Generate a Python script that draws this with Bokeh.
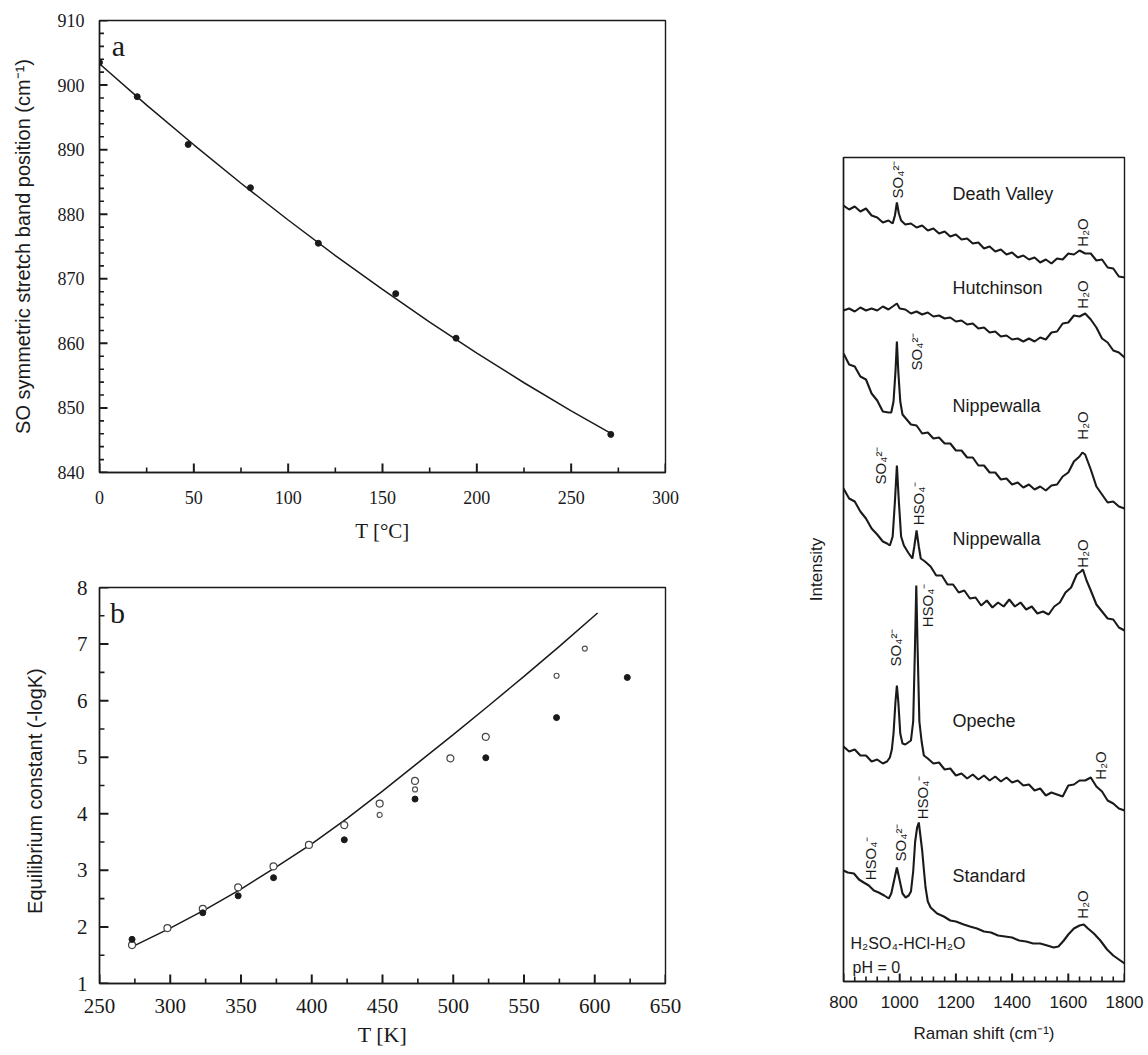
import math
from bokeh.plotting import figure
from bokeh.layouts import row, column
from bokeh.models import FixedTicker, Label
from bokeh.core.properties import value
from bokeh.embed import file_html
from bokeh.resources import INLINE

# ---------------- Panel a: SO symmetric stretch band position vs T ----------------
a_temp = [0, 20, 47, 80, 116, 157, 189, 271]
a_band = [903.5, 898.2, 890.8, 884.1, 875.5, 867.7, 860.8, 845.9]
a_fit_temp = [0, 25, 50, 75, 100, 125, 150, 175, 200, 225, 250, 272]
a_fit_band = [903.3, 896.9, 890.75, 884.8, 879.1, 873.6, 868.35, 863.3, 858.5, 853.9, 849.55, 845.9]
a_xticks = [0, 50, 100, 150, 200, 250, 300]
a_xminor = [25, 75, 125, 175, 225, 275]
a_yticks = [840, 850, 860, 870, 880, 890, 900, 910]
a_yminor = [v for v in range(842, 910, 2) if v % 10 != 0]

# ---------------- Panel b: equilibrium constant vs T ----------------
b_open_T = [273, 298, 323, 348, 373, 398, 423, 448, 473, 498, 523]
b_open_K = [1.68, 1.98, 2.32, 2.70, 3.07, 3.45, 3.80, 4.18, 4.58, 4.98, 5.36]
b_small_T = [448, 473, 573, 593]
b_small_K = [3.98, 4.43, 6.44, 6.92]
b_fill_T = [273, 323, 348, 373, 423, 473, 523, 573, 623]
b_fill_K = [1.78, 2.25, 2.55, 2.87, 3.54, 4.26, 4.99, 5.70, 6.41]
b_fit_T = [274, 300, 325, 350, 375, 400, 425, 450, 475, 500, 525, 550, 575, 602]
b_fit_K = [1.66, 1.98, 2.31, 2.67, 3.06, 3.47, 3.92, 4.40, 4.90, 5.40, 5.91, 6.43, 6.96, 7.55]
b_xticks = [250, 300, 350, 400, 450, 500, 550, 600, 650]
b_xminor = [275, 325, 375, 425, 475, 525, 575, 625]
b_yticks = [1, 2, 3, 4, 5, 6, 7, 8]
b_yminor = [1.5, 2.5, 3.5, 4.5, 5.5, 6.5, 7.5]

# ---------------- Raman spectra (offset intensities, a.u.) ----------------
dv_x = [800, 820, 840, 860, 880, 900, 920, 940, 960, 975, 983, 990, 997, 1005, 1020,
        1040, 1060, 1080, 1100, 1120, 1140, 1160, 1180, 1200, 1220, 1240, 1260, 1280, 1300,
        1320, 1340, 1360, 1380, 1400, 1420, 1440, 1460, 1480, 1500, 1520, 1540, 1560, 1580,
        1600, 1620, 1640, 1660, 1680, 1700, 1720, 1740, 1760, 1780, 1800]
dv_y = [776, 772, 775, 770, 773, 766, 764, 759, 761, 758, 766, 779, 768, 761, 757,
        758, 754, 756, 751, 753, 748, 750, 745, 747, 742, 743, 738, 739, 733,
        735, 730, 732, 727, 729, 724, 726, 722, 724, 719, 722, 718, 723, 722,
        728, 727, 731, 728, 728, 721, 722, 714, 713, 705, 704]

hu_x = [800, 820, 840, 860, 880, 900, 920, 940, 960, 980, 990, 1000,
        1020, 1040, 1060, 1080, 1100, 1120, 1140, 1160, 1180, 1200, 1220, 1240, 1260, 1280,
        1300, 1320, 1340, 1360, 1380, 1400, 1420, 1440, 1460, 1480, 1500, 1520, 1540, 1560,
        1580, 1600, 1620, 1640, 1660, 1680, 1700, 1720, 1740, 1760, 1780, 1800]
hu_y = [671, 673, 670, 674, 671, 673, 671, 675, 672, 676, 678, 673,
        672, 668, 670, 667, 669, 665, 666, 663, 664, 660, 661, 657, 658, 653,
        654, 649, 650, 645, 646, 642, 643, 640, 643, 640, 644, 642, 649, 650,
        658, 659, 666, 665, 668, 662, 654, 643, 639, 631, 629, 624]

n1_x = [800, 820, 840, 860, 880, 900, 920, 940, 960,
        970, 978, 985, 990, 995, 1002, 1010, 1025,
        1040, 1060, 1080, 1100, 1120, 1140, 1160, 1180, 1200, 1220, 1240, 1260, 1280, 1300,
        1320, 1340, 1360, 1380, 1400, 1420, 1440, 1460, 1480, 1500, 1520, 1540, 1560, 1580,
        1600, 1620, 1640, 1650, 1660, 1680, 1700, 1720, 1740, 1760, 1780, 1800]
n1_y = [628, 617, 615, 605, 602, 588, 581, 570, 569,
        569, 580, 610, 640, 610, 580, 567, 562,
        557, 556, 548, 549, 543, 544, 538, 538, 531, 531, 524, 524, 516, 516,
        509, 509, 502, 503, 497, 499, 494, 497, 492, 495, 491, 496, 497, 505,
        509, 520, 525, 529, 527, 512, 495, 487, 479, 480, 475, 473]

n2_x = [800, 820, 840, 860, 880, 900, 920, 940,
        955, 965, 975, 983, 990, 997, 1005, 1015, 1030, 1045, 1052, 1060, 1068, 1075, 1090,
        1110, 1130, 1150, 1170, 1190, 1210, 1230, 1250, 1270, 1290, 1310, 1330, 1350, 1370,
        1390, 1410, 1430, 1450, 1470, 1490, 1510, 1530, 1550, 1570, 1590, 1610, 1630,
        1645, 1652, 1665, 1680, 1700, 1720, 1740, 1760, 1780, 1800]
n2_y = [493, 483, 480, 470, 463, 453, 447, 440,
        438, 436, 445, 480, 516, 480, 445, 436, 429, 423, 435, 451, 435, 423, 420,
        415, 406, 406, 397, 397, 389, 391, 383, 384, 376, 381, 374, 379, 375,
        382, 375, 379, 372, 375, 368, 370, 367, 375, 379, 389, 394, 407,
        410, 412, 401, 391, 377, 370, 363, 362, 354, 351]

op_x = [800, 820, 840, 860, 880, 900, 920, 940,
        955, 965, 972, 978, 985, 990, 995, 1002, 1010, 1020, 1030, 1040, 1048, 1054, 1059,
        1064, 1070, 1078, 1086, 1100,
        1120, 1140, 1160, 1180, 1200, 1220, 1240, 1260, 1280, 1300, 1320, 1340, 1360, 1380,
        1400, 1420, 1440, 1460, 1480, 1500, 1520, 1540, 1560, 1580, 1600, 1620, 1640, 1660,
        1680, 1700, 1720, 1740, 1760, 1780, 1800]
op_y = [235, 230, 232, 226, 226, 220, 222, 218,
        220, 224, 232, 248, 280, 296, 280, 248, 238, 237, 239, 241, 260, 330, 396,
        330, 260, 240, 226, 223,
        218, 219, 212, 213, 206, 208, 203, 207, 202, 206, 201, 205, 200, 204,
        199, 201, 196, 197, 191, 193, 186, 189, 187, 185, 196, 197, 201, 201,
        204, 195, 190, 181, 178, 173, 171]

st_x = [800, 815, 837, 855, 872, 890, 908, 925, 945, 961, 970, 980, 990, 1000, 1010, 1021, 1032, 1040,
        1048, 1055, 1062, 1068, 1074, 1080, 1086, 1092, 1100, 1110, 1133, 1157, 1180, 1200, 1228,
        1250, 1275, 1300, 1325, 1350, 1375, 1400, 1425, 1450, 1475, 1500, 1525, 1548, 1565, 1584,
        1600, 1620, 1640, 1655, 1670, 1691, 1714, 1738, 1760, 1780, 1800]
st_y = [111, 109, 108, 102, 99, 96, 91, 89, 86, 83, 88, 101, 114, 101, 88, 84, 86, 90,
        110, 140, 154, 159, 145, 131, 112, 94, 80, 74, 68, 65, 61, 60, 57,
        55, 53, 50, 49, 46, 45, 44, 41, 40, 38, 38, 36, 34, 35, 41,
        47, 53, 56, 57, 53, 48, 41, 32, 26, 22, 18]

r_xticks = [800, 1000, 1200, 1400, 1600, 1800]
r_xminor = [v for v in range(840, 1800, 40) if v % 200 != 0]

sample_names = ["Death Valley", "Hutchinson", "Nippewalla", "Nippewalla", "Opeche", "Standard"]
sample_name_y = [788, 694, 576, 443, 261, 106]
band_labels = ["SO₄²⁻", "H₂O", "H₂O", "SO₄²⁻", "H₂O", "SO₄²⁻", "HSO₄⁻", "H₂O",
               "SO₄²⁻", "HSO₄⁻", "H₂O", "HSO₄⁻", "SO₄²⁻", "HSO₄⁻", "H₂O"]
band_label_x = [991, 1650, 1650, 1060, 1650, 932, 1067, 1650, 985, 1099, 1715, 896, 1003, 1081, 1650]
band_label_y = [802, 749, 687, 630, 556, 516, 478, 428, 334, 376, 216, 123, 139, 184, 77]

INK = "#1a1a1a"
SERIF = "Liberation Serif"
SANS = "Liberation Sans"


def make_fig(width, height, xr, yr, left, right, top, bottom):
    p = figure(width=width, height=height, x_range=xr, y_range=yr,
               output_backend="svg", toolbar_location=None,
               min_border_left=left, min_border_right=right,
               min_border_top=top, min_border_bottom=bottom)
    # data units per screen pixel inside the frame (frame size fixed by the borders)
    p.tags = [(xr[1] - xr[0]) / (width - left - right), (yr[1] - yr[0]) / (height - top - bottom)]
    return p


def style_axes(p, tick_font, tick_size, xticks, yticks):
    p.outline_line_color = INK
    p.outline_line_width = 1.4
    p.xgrid.visible = False
    p.ygrid.visible = False
    p.xaxis.ticker = FixedTicker(ticks=xticks)
    p.yaxis.ticker = FixedTicker(ticks=yticks)
    for ax in (p.xaxis[0], p.yaxis[0]):
        ax.axis_line_color = INK
        ax.axis_line_width = 1.4
        ax.major_tick_in = 0
        ax.major_tick_out = 0
        ax.minor_tick_in = 0
        ax.minor_tick_out = 0
        ax.major_label_text_font = tick_font
        ax.major_label_text_font_size = tick_size
        ax.major_label_text_color = INK
        ax.axis_label_text_color = INK
        ax.axis_label_text_font_style = "normal"


def inner_ticks(p, xs, y0, ys, x0, length_px, width):
    # tick marks drawn inward from the bottom and left frame edges
    ux, uy = p.tags
    if xs:
        p.segment(x0=xs, y0=[y0] * len(xs), x1=xs, y1=[y0 + length_px * uy] * len(xs),
                  line_color=INK, line_width=width)
    if ys:
        p.segment(x0=[x0] * len(ys), y0=ys, x1=[x0 + length_px * ux] * len(ys), y1=ys,
                  line_color=INK, line_width=width)


# ---------- figure a ----------
pa = make_fig(760, 550, (0, 300), (840, 910), 99, 25, 20, 78)
style_axes(pa, SERIF, "18px", a_xticks, a_yticks)
pa.xaxis.axis_label = "T [°C]"
pa.xaxis.axis_label_text_font = SERIF
pa.xaxis.axis_label_text_font_size = "21px"
pa.xaxis.major_label_standoff = 18
pa.xaxis.axis_label_standoff = 12
pa.yaxis.axis_label = "SO symmetric stretch band position (cm⁻¹)"
pa.yaxis.axis_label_text_font = SANS
pa.yaxis.axis_label_text_font_size = "20px"
pa.yaxis.major_label_standoff = 15
pa.yaxis.axis_label_standoff = 21
inner_ticks(pa, a_xticks, 840, a_yticks, 0, 9, 2)
inner_ticks(pa, a_xminor, 840, a_yminor, 0, 5, 1.6)
pa.line(a_fit_temp, a_fit_band, line_color=INK, line_width=1.5)
pa.scatter(a_temp, a_band, marker="circle", size=6, fill_color=INK, line_color=INK)
pa.add_layout(Label(x=10, y=906.1, text="a", text_font=SERIF, text_font_size="30px",
                    text_align="center", text_baseline="middle", text_color=INK))

# ---------- figure b ----------
pb = make_fig(760, 505, (250, 650), (1, 8), 97, 95, 37, 72)
style_axes(pb, SERIF, "21px", b_xticks, b_yticks)
pb.xaxis.axis_label = "T [K]"
pb.xaxis.axis_label_text_font = SERIF
pb.xaxis.axis_label_text_font_size = "22px"
pb.xaxis.major_label_standoff = 15
pb.xaxis.axis_label_standoff = 6
pb.yaxis.axis_label = "Equilibrium  constant  (-logK)"
pb.yaxis.axis_label_text_font = SANS
pb.yaxis.axis_label_text_font_size = "20px"
pb.yaxis.major_label_standoff = 12
pb.yaxis.axis_label_standoff = 28
inner_ticks(pb, b_xticks, 1, b_yticks, 250, 9, 2)
inner_ticks(pb, b_xminor, 1, b_yminor, 250, 5, 1.6)
pb.line(b_fit_T, b_fit_K, line_color=INK, line_width=1.5)
pb.scatter(b_open_T, b_open_K, marker="circle", size=7, fill_color="white", line_color="#444", line_width=1.2)
pb.scatter(b_small_T, b_small_K, marker="circle", size=5, fill_color="white", line_color="#555", line_width=1.2)
pb.scatter(b_fill_T, b_fill_K, marker="circle", size=6, fill_color=INK, line_color=INK)
pb.add_layout(Label(x=262.7, y=7.56, text="b", text_font=SERIF, text_font_size="30px",
                    text_align="center", text_baseline="middle", text_color=INK))

# ---------- Raman figure ----------
pr = make_fig(388, 1055, (800, 1800), (0, 824), 83, 24, 157, 74)
style_axes(pr, SANS, "17px", r_xticks, [])
pr.xaxis.axis_label = "Raman shift (cm⁻¹)"
pr.xaxis.axis_label_text_font = SANS
pr.xaxis.axis_label_text_font_size = "17px"
pr.xaxis.major_label_standoff = 14
pr.xaxis.axis_label_standoff = 13
pr.yaxis.axis_label = "Intensity"
pr.yaxis.axis_label_text_font = SANS
pr.yaxis.axis_label_text_font_size = "17px"
pr.yaxis.axis_label_standoff = 18
inner_ticks(pr, r_xticks, 0, [], 800, 8, 2)
inner_ticks(pr, r_xminor, 0, [], 800, 5, 1.6)

for xs, ys in ((dv_x, dv_y), (hu_x, hu_y), (n1_x, n1_y), (n2_x, n2_y), (op_x, op_y), (st_x, st_y)):
    pr.line(xs, ys, line_color=INK, line_width=2.1)

pr.text(x=[1188] * len(sample_names), y=sample_name_y, text=sample_names,
        text_font=value(SANS), text_font_size="18px", text_align="left",
        text_baseline="middle", text_color=INK)
pr.text(x=band_label_x, y=band_label_y, text=band_labels, angle=math.pi / 2,
        text_font=value(SANS), text_font_size="15px", text_align="center",
        text_baseline="middle", text_color=INK)
pr.text(x=[825, 832], y=[38, 14], text=["H₂SO₄-HCl-H₂O", "pH = 0"],
        text_font=value(SANS), text_font_size="16px", text_align="left",
        text_baseline="middle", text_color=INK)

layout = row(column(pa, pb), pr)
open("out.html", "w").write(file_html(layout, INLINE))
